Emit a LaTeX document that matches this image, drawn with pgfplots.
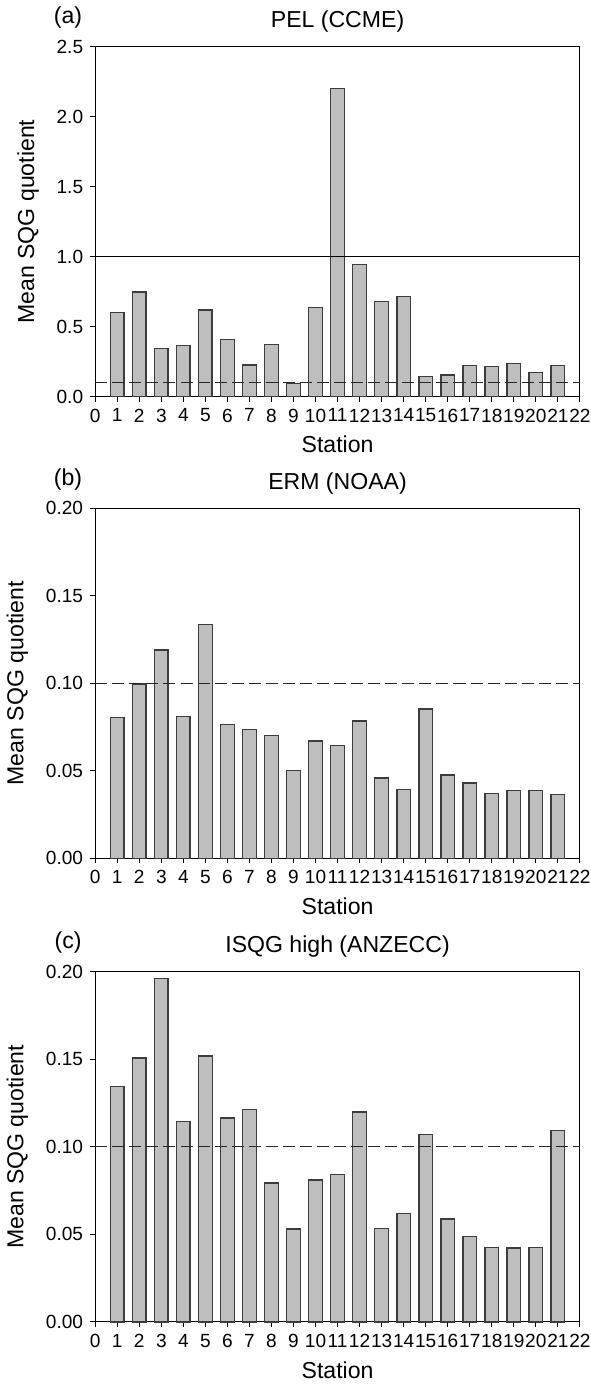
\documentclass[border=0pt]{standalone}
\usepackage{fontspec}
\setmainfont{Liberation Sans}
\usepackage{pgfplots}
\pgfplotsset{compat=1.18}
\definecolor{barfill}{RGB}{190,190,190}
\definecolor{baredge}{RGB}{60,60,60}

\pgfplotsset{
  sqg/.style={
    scale only axis, width=241.5pt, height=174.5pt,
    xmin=0, xmax=22, xtick={0,...,22}, ymin=0,
    tick align=outside, xtick pos=left, ytick pos=left,
    major tick length=2.5pt,
    tick style={black, line width=0.5pt},
    axis line style={line width=0.5pt},
    ticklabel style={font=\fontsize{9.5}{11}\selectfont},
    xticklabel style={inner xsep=0pt},
    label style={font=\fontsize{11.5}{13}\selectfont},
    title style={font=\fontsize{11.5}{13}\selectfont, yshift=-2.5pt},
    xlabel={Station}, ylabel={Mean SQG quotient},
    ylabel style={yshift=2pt},
    /pgf/number format/assume math mode=true,
    clip=false,
  },
  sqgbar/.style={ybar, bar width=0.62, fill=barfill, draw=baredge, line width=0.7pt},
  refline/.style={black!85, line width=0.6pt, dash pattern=on 6pt off 2.5pt},
}

\begin{document}
\begin{tikzpicture}
% (a)
\begin{axis}[sqg, at={(0,0)}, ymax=2.5, ytick={0,0.5,...,2.5},
  yticklabel style={/pgf/number format/.cd, fixed, fixed zerofill, precision=1},
  title={PEL (CCME)}]
\addplot[sqgbar] coordinates {
  (1,0.601) (2,0.747) (3,0.345) (4,0.366) (5,0.618) (6,0.409) (7,0.227)
  (8,0.374) (9,0.096) (10,0.639) (11,2.201) (12,0.946) (13,0.678) (14,0.714)
  (15,0.146) (16,0.156) (17,0.223) (18,0.216) (19,0.237) (20,0.172) (21,0.225)};
\addplot[black, line width=0.6pt] coordinates {(0,1) (22,1)};
\addplot[refline] coordinates {(0,0.1) (22,0.1)};
\node[font=\fontsize{11.5}{13}\selectfont] at (rel axis cs:-0.056,1.083) {(a)};
\end{axis}
% (b)
\begin{axis}[sqg, at={(0,-230pt)}, ymax=0.2, ytick={0,0.05,...,0.2},
  yticklabel style={/pgf/number format/.cd, fixed, fixed zerofill, precision=2},
  title={ERM (NOAA)}]
\addplot[sqgbar] coordinates {
  (1,0.0806) (2,0.0995) (3,0.119) (4,0.0811) (5,0.1334) (6,0.0764) (7,0.0735)
  (8,0.0702) (9,0.0501) (10,0.067) (11,0.0645) (12,0.0785) (13,0.0459) (14,0.0392)
  (15,0.0854) (16,0.0475) (17,0.0431) (18,0.0369) (19,0.0389) (20,0.0389) (21,0.0364)};
\addplot[refline] coordinates {(0,0.1) (22,0.1)};
\node[font=\fontsize{11.5}{13}\selectfont] at (rel axis cs:-0.056,1.083) {(b)};
\end{axis}
% (c)
\begin{axis}[sqg, at={(0,-461pt)}, ymax=0.2, ytick={0,0.05,...,0.2},
  yticklabel style={/pgf/number format/.cd, fixed, fixed zerofill, precision=2},
  title={ISQG high (ANZECC)}]
\addplot[sqgbar] coordinates {
  (1,0.1345) (2,0.1508) (3,0.196) (4,0.1146) (5,0.152) (6,0.1164) (7,0.1213)
  (8,0.0794) (9,0.0532) (10,0.081) (11,0.0842) (12,0.1198) (13,0.0534) (14,0.062)
  (15,0.107) (16,0.0588) (17,0.0488) (18,0.0427) (19,0.0423) (20,0.0425) (21,0.1093)};
\addplot[refline] coordinates {(0,0.1) (22,0.1)};
\node[font=\fontsize{11.5}{13}\selectfont] at (rel axis cs:-0.056,1.083) {(c)};
\end{axis}
\end{tikzpicture}
\end{document}
